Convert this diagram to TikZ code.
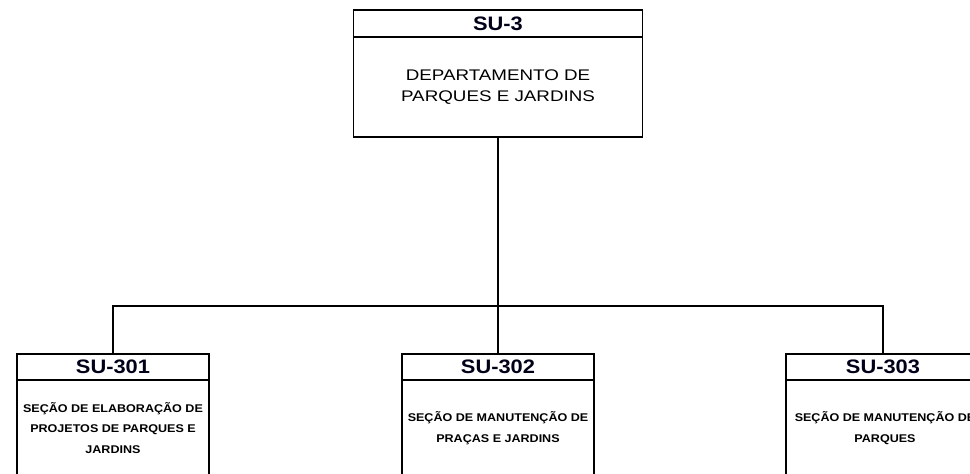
\documentclass[tikz,border=0pt]{standalone}
\usepackage{fontspec}
\setmainfont{Liberation Sans}
\newfontfamily\titlefont[FakeStretch=1.12]{Liberation Sans}
\newfontfamily\bodyfont[FakeStretch=1.22]{Liberation Sans}
\newfontfamily\smallfont[FakeStretch=1.12]{Liberation Sans}
\tikzset{
  box/.style={draw=black, line width=1.6pt, fill=white, inner sep=0pt, outer sep=0pt, anchor=north},
  conn/.style={draw=black, line width=1.8pt},
  ttl/.style={font=\titlefont\bfseries\fontsize{19.5}{21}\selectfont, inner sep=0pt, text=black!90!blue},
  bigtxt/.style={font=\bodyfont\fontsize{15.4}{21}\selectfont, align=center, inner sep=0pt},
  smalltxt/.style={font=\smallfont\bfseries\fontsize{11.2}{20.8}\selectfont, align=center, inner sep=0pt}
}
\begin{document}
\begin{tikzpicture}[x=1pt,y=-1pt]
\useasboundingbox (0,0) rectangle (970,474);
\fill[white] (0,0) rectangle (970,474);
\clip (0,0) rectangle (970,474);
% top box
\node[box, minimum width=289pt, minimum height=127pt] (top) at (498,10) {};
\draw[conn] ([yshift=-27pt]top.north west) -- ([yshift=-27pt]top.north east);
\node[ttl] (topT) at ([yshift=-13.5pt]top.north) {SU-3};
\node[bigtxt] (topB) at ([yshift=-77pt]top.north) {DEPARTAMENTO DE\\PARQUES E JARDINS};
% bottom boxes
\node[box, minimum width=192pt, minimum height=160pt] (b1) at (113,354) {};
\node[box, minimum width=192pt, minimum height=160pt] (b2) at (498,354) {};
\node[box, minimum width=194pt, minimum height=160pt] (b3) at (883,354) {};
\foreach \b in {b1,b2,b3}{
  \draw[conn] ([yshift=-26pt]\b.north west) -- ([yshift=-26pt]\b.north east);
}
\node[ttl] (b1T) at ([yshift=-13pt]b1.north) {SU-301};
\node[ttl] (b2T) at ([yshift=-13pt]b2.north) {SU-302};
\node[ttl] (b3T) at ([yshift=-13pt]b3.north) {SU-303};
\node[smalltxt] (b1B) at ([yshift=-74pt]b1.north) {SEÇÃO DE ELABORAÇÃO DE\\PROJETOS DE PARQUES E\\JARDINS};
\node[smalltxt] (b2B) at ([yshift=-74pt]b2.north) {SEÇÃO DE MANUTENÇÃO DE\\PRAÇAS E JARDINS};
\node[smalltxt] (b3B) at ([xshift=2pt,yshift=-74pt]b3.north) {SEÇÃO DE MANUTENÇÃO DE\\PARQUES};
% connectors
\coordinate (j) at (498,306);
\draw[conn] (top.south) -- (b2.north);
\draw[conn] (b1.north) |- (j) -| (b3.north);
\end{tikzpicture}
\end{document}
